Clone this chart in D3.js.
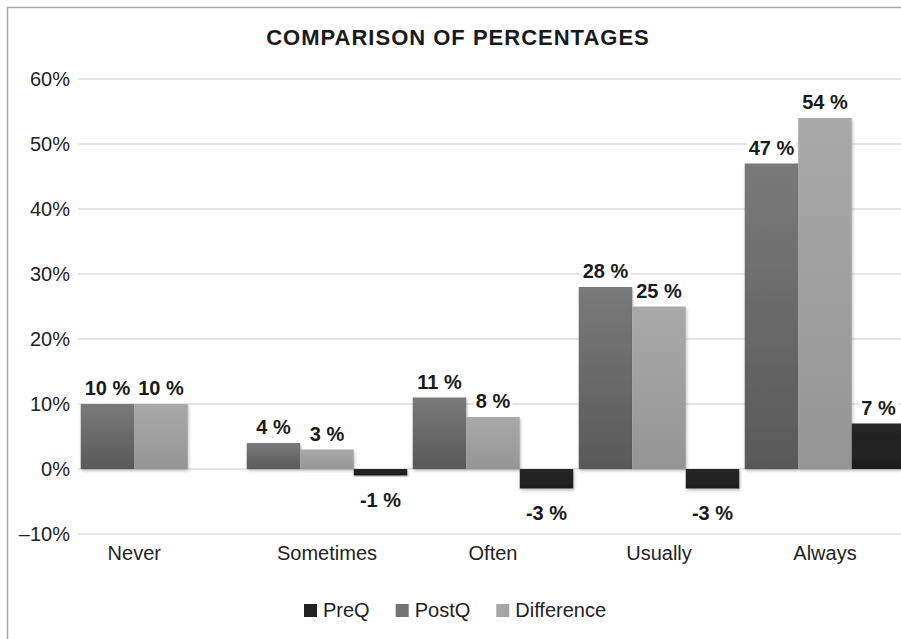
<!DOCTYPE html>
<html>
<head>
<meta charset="utf-8">
<script src="https://cdn.jsdelivr.net/npm/d3@7"></script>
<style>
  html, body { margin: 0; padding: 0; background: #fff; }
  svg { display: block; font-family: "Liberation Sans", Arial, Helvetica, sans-serif; }
</style>
</head>
<body>
<svg id="chart" width="901" height="639"></svg>
<script>
// Response categories along the x axis
const categories = ["Never", "Sometimes", "Often", "Usually", "Always"];

// Percentages per series (null = no bar for that category)
const preQ = [null, -1, -3, -3, 7];
const postQ = [10, 4, 11, 28, 47];
const difference = [10, 3, 8, 25, 54];

// Bar order inside each group, and legend order
const barOrder = ["PostQ", "Difference", "PreQ"];
const legendOrder = ["PreQ", "PostQ", "Difference"];
const seriesValues = { PreQ: preQ, PostQ: postQ, Difference: difference };

// Y axis ticks
const yTicks = [-10, 0, 10, 20, 30, 40, 50, 60];

const svg = d3.select("#chart");
const W = 901, H = 639;

svg.append("rect").attr("width", W).attr("height", H).attr("fill", "#fff");

const defs = svg.append("defs");
const grad = (id, top, bottom) => {
  const g = defs.append("linearGradient").attr("id", id)
    .attr("x1", 0).attr("y1", 0).attr("x2", 0).attr("y2", 1);
  g.append("stop").attr("offset", "0%").attr("stop-color", top);
  g.append("stop").attr("offset", "100%").attr("stop-color", bottom);
};
grad("g-post", "#7a7a7a", "#595959");
grad("g-diff", "#a9a9a9", "#959595");
grad("g-pre", "#262626", "#1e1e1e");
const fill = { PostQ: "url(#g-post)", Difference: "url(#g-diff)", PreQ: "url(#g-pre)" };
const legendFill = { PreQ: "#222", PostQ: "#737373", Difference: "#a6a6a6" };

const shadow = defs.append("filter").attr("id", "shadow")
  .attr("x", "-10%").attr("y", "-10%").attr("width", "130%").attr("height", "130%");
shadow.append("feDropShadow").attr("dx", 1).attr("dy", 2)
  .attr("stdDeviation", 1.5).attr("flood-color", "#000").attr("flood-opacity", 0.25);

// Outer frame
svg.append("rect")
  .attr("x", 7.5).attr("y", 7.5).attr("width", W + 10).attr("height", H + 10)
  .attr("fill", "none").attr("stroke", "#a8a8a8").attr("stroke-width", 1.5);

// Title
svg.append("text")
  .attr("x", 458).attr("y", 45)
  .attr("text-anchor", "middle")
  .attr("font-size", 22).attr("font-weight", "bold")
  .attr("letter-spacing", 1)
  .attr("fill", "#1a1a1a")
  .text("COMPARISON OF PERCENTAGES");

// Scales
const y = d3.scaleLinear().domain([-10, 60]).range([534, 79]);
const x0 = d3.scaleBand().domain(categories).range([78, 908])
  .paddingInner(0.033).paddingOuter(0.0165);
const x1 = d3.scaleBand().domain(barOrder).range([0, x0.bandwidth()]);

// Gridlines and y tick labels
const yAxis = d3.axisLeft(y).tickValues(yTicks)
  .tickSize(0).tickPadding(8)
  .tickFormat(d => (d < 0 ? "\u2013" + Math.abs(d) : d) + "%");

svg.append("g").selectAll("line").data(yTicks).join("line")
  .attr("x1", 78).attr("x2", W)
  .attr("y1", d => y(d)).attr("y2", d => y(d))
  .attr("stroke", "#e4e4e4").attr("stroke-width", 2);

const yg = svg.append("g").attr("transform", "translate(70,0)").call(yAxis);
yg.select(".domain").remove();
yg.selectAll("text")
  .attr("font-size", 20).attr("fill", "#222")
  .attr("font-family", "'Liberation Sans', Arial, sans-serif")
  .attr("x", 0);

// Bars
const rows = [];
categories.forEach((c, i) => {
  barOrder.forEach(s => {
    const v = seriesValues[s][i];
    if (v !== null) rows.push({ cat: c, series: s, value: v });
  });
});

svg.append("g").selectAll("rect").data(rows).join("rect")
  .attr("x", d => x0(d.cat) + x1(d.series))
  .attr("width", x1.bandwidth())
  .attr("y", d => y(Math.max(0, d.value)))
  .attr("height", d => Math.abs(y(d.value) - y(0)))
  .attr("fill", d => fill[d.series])
  .attr("filter", "url(#shadow)");

// Value labels with white backing
const labelG = svg.append("g");
const labels = labelG.selectAll("g").data(rows).join("g");
labels.append("rect").attr("fill", "#fff");
labels.append("text")
  .attr("x", d => x0(d.cat) + x1(d.series) + x1.bandwidth() / 2)
  .attr("y", d => d.value >= 0 ? y(d.value) - 9 : y(d.value) + 31)
  .attr("text-anchor", "middle")
  .attr("font-size", 20).attr("font-weight", "bold")
  .attr("fill", "#1a1a1a")
  .text(d => d.value + " %");
labels.each(function() {
  const t = d3.select(this).select("text").node().getBBox();
  d3.select(this).select("rect")
    .attr("x", t.x - 2).attr("y", t.y).attr("width", t.width + 4).attr("height", t.height);
});

// Category labels, centred under the bars drawn for each category
svg.append("g").selectAll("text").data(categories).join("text")
  .attr("x", c => {
    const present = rows.filter(r => r.cat === c);
    const left = d3.min(present, r => x0(c) + x1(r.series));
    const right = d3.max(present, r => x0(c) + x1(r.series) + x1.bandwidth());
    return (left + right) / 2;
  })
  .attr("y", 560)
  .attr("text-anchor", "middle")
  .attr("font-size", 20).attr("fill", "#222")
  .text(c => c);

// Legend
const legend = svg.append("g");
let lx = 304;
legendOrder.forEach(s => {
  const item = legend.append("g");
  item.append("rect")
    .attr("x", lx).attr("y", 604).attr("width", 13).attr("height", 13)
    .attr("fill", legendFill[s]);
  const t = item.append("text")
    .attr("x", lx + 19).attr("y", 617)
    .attr("font-size", 20).attr("fill", "#222")
    .text(s);
  lx += 19 + t.node().getComputedTextLength() + 26;
});
</script>
</body>
</html>
